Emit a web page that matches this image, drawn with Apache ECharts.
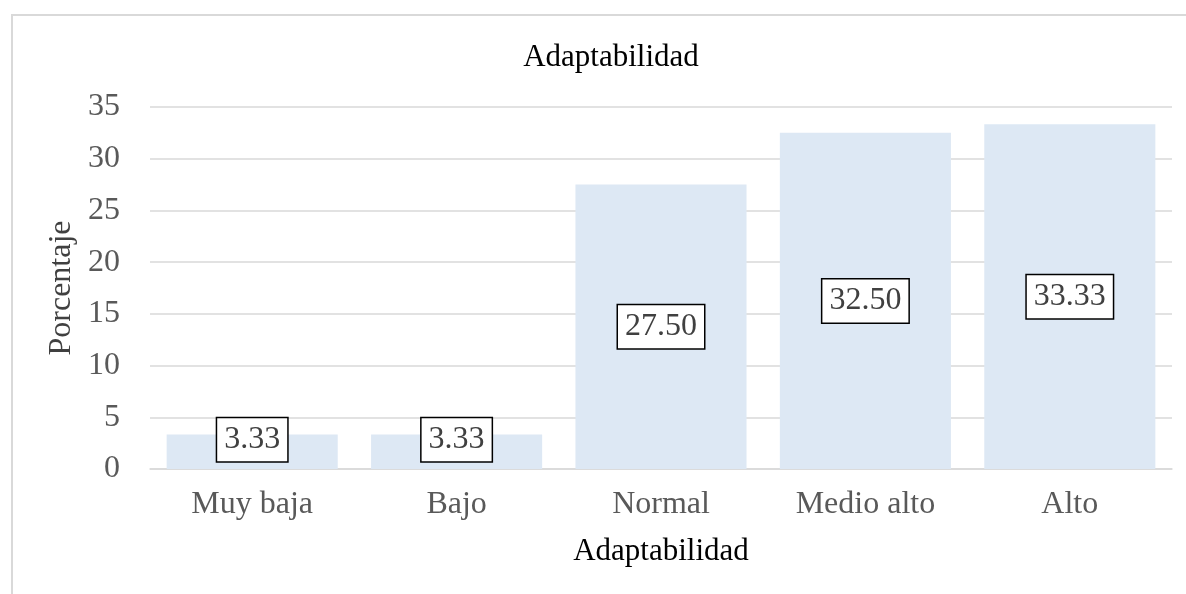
<!DOCTYPE html>
<html>
<head>
<meta charset="utf-8">
<title>Adaptabilidad</title>
<script src="https://cdn.jsdelivr.net/npm/echarts@6/dist/echarts.min.js"></script>
<style>
    html, body { margin: 0; padding: 0; background: #fff; }
    #chart { width: 1186px; height: 594px; }
</style>
</head>
<body>
<div id="chart"></div>
<script>
// datos del gráfico
const categories = ['Muy baja', 'Bajo', 'Normal', 'Medio alto', 'Alto']
const porcentajes = [3.33, 3.33, 27.50, 32.50, 33.33]
const yTicks = { min: 0, max: 35, interval: 5 }

const serif = "'Liberation Serif', 'Times New Roman', serif"

const chart = echarts.init(document.getElementById('chart'))

const option = {
    backgroundColor: '#fff',
    title: {
        text: 'Adaptabilidad',
        left: 606,
        textAlign: 'center',
        top: 37,
        textStyle: { fontFamily: serif, fontSize: 31, fontWeight: 'normal', color: '#000' }
    },
    graphic: [{
        type: 'rect',
        shape: { x: 12, y: 15, width: 1200, height: 620 },
        style: { fill: 'none', stroke: '#d9d9d9', lineWidth: 2 },
        silent: true
    }],
    grid: { left: 150, right: 14, top: 107, bottom: 125 },
    xAxis: {
        type: 'category',
        data: categories,
        name: 'Adaptabilidad',
        nameLocation: 'middle',
        nameGap: 67,
        nameTextStyle: { fontFamily: serif, fontSize: 31, color: '#000' },
        axisLine: { lineStyle: { color: '#d9d9d9', width: 1.5 } },
        axisTick: { show: false },
        axisLabel: { fontFamily: serif, fontSize: 32, color: '#595959', margin: 20 }
    },
    yAxis: {
        type: 'value',
        min: yTicks.min,
        max: yTicks.max,
        interval: yTicks.interval,
        name: 'Porcentaje',
        nameLocation: 'middle',
        nameGap: 61,
        nameTextStyle: { fontFamily: serif, fontSize: 32, color: '#404040' },
        axisLine: { show: false },
        axisTick: { show: false },
        axisLabel: { fontFamily: serif, fontSize: 32, color: '#595959', margin: 30 },
        splitLine: { lineStyle: { color: '#d9d9d9', width: 1.5 } }
    },
    series: [{
        type: 'bar',
        barCategoryGap: '16.3%',
        itemStyle: { color: '#dde8f4' },
        // las barras bajas: la etiqueta se sube para no salir del área
        data: porcentajes.map(v => ({
            value: v,
            label: v < 5 ? { offset: [0, -12] } : {}
        })),
        label: {
            show: true,
            position: 'inside',
            formatter: p => p.value.toFixed(2),
            fontFamily: serif,
            fontSize: 32,
            color: '#404040',
            backgroundColor: '#fff',
            borderColor: '#000',
            borderWidth: 1.5,
            padding: [5, 7, 3, 7],
            lineHeight: 35
        }
    }]
}

chart.setOption(option)
</script>
</body>
</html>
